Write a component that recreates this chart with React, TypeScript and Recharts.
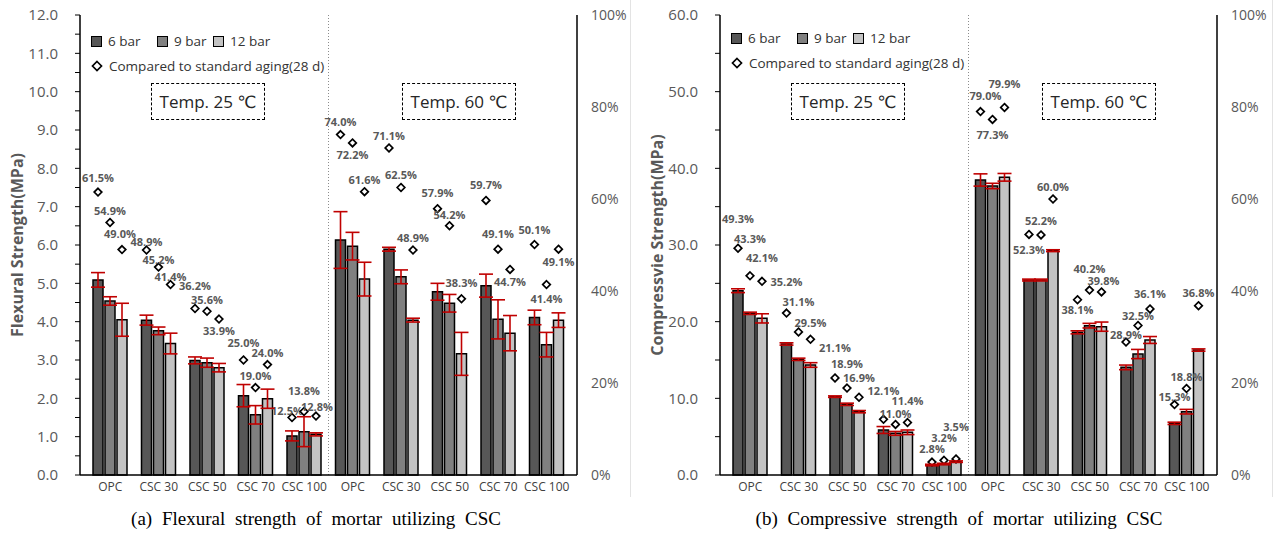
import React from "react";
import { ComposedChart, Bar, XAxis, YAxis, ErrorBar, ReferenceLine } from "recharts";

// categories (two temperature groups)
const categories = ["OPC", "CSC 30", "CSC 50", "CSC 70", "CSC 100", "OPC", "CSC 30", "CSC 50", "CSC 70", "CSC 100"];
const temps = [25, 25, 25, 25, 25, 60, 60, 60, 60, 60];

// (a) flexural strength, MPa
const flex6 = [5.09, 4.04, 2.99, 2.07, 1.02, 6.13, 5.89, 4.78, 4.94, 4.11];
const flex9 = [4.54, 3.76, 2.93, 1.57, 1.13, 5.97, 5.17, 4.48, 4.06, 3.4];
const flex12 = [4.05, 3.43, 2.8, 1.99, 1.06, 5.11, 4.04, 3.16, 3.7, 4.04];
const flexErr6 = [0.19, 0.13, 0.09, 0.29, 0.13, 0.74, 0.05, 0.22, 0.3, 0.19];
const flexErr9 = [0.11, 0.1, 0.12, 0.24, 0.39, 0.36, 0.18, 0.23, 0.51, 0.32];
const flexErr12 = [0.43, 0.27, 0.11, 0.25, 0.04, 0.44, 0.05, 0.56, 0.46, 0.19];
const flexPct6 = [61.5, 48.9, 36.2, 25.0, 12.5, 74.0, 71.1, 57.9, 59.7, 50.1];
const flexPct9 = [54.9, 45.2, 35.6, 19.0, 13.8, 72.2, 62.5, 54.2, 49.1, 41.4];
const flexPct12 = [49.0, 41.4, 33.9, 24.0, 12.8, 61.6, 48.9, 38.3, 44.7, 49.1];

// (b) compressive strength, MPa
const comp6 = [24.04, 17.09, 10.22, 5.87, 1.3, 38.48, 25.43, 18.61, 14.04, 6.74];
const comp9 = [21.09, 15.09, 9.22, 5.43, 1.43, 37.7, 25.43, 19.48, 15.78, 8.26];
const comp12 = [20.43, 14.35, 8.26, 5.57, 1.74, 38.83, 29.26, 19.35, 17.61, 16.3];
const compErr6 = [0.25, 0.15, 0.1, 0.45, 0.1, 0.8, 0.12, 0.2, 0.3, 0.15];
const compErr9 = [0.15, 0.15, 0.15, 0.25, 0.1, 0.35, 0.12, 0.3, 0.6, 0.3];
const compErr12 = [0.6, 0.3, 0.15, 0.3, 0.1, 0.5, 0.12, 0.6, 0.45, 0.15];
const compPct6 = [49.3, 35.2, 21.1, 12.1, 2.8, 79.0, 52.3, 38.1, 28.9, 15.3];
const compPct9 = [43.3, 31.1, 18.9, 11.0, 3.2, 77.3, 52.2, 40.2, 32.5, 18.8];
const compPct12 = [42.1, 29.5, 16.9, 11.4, 3.5, 79.9, 60.0, 39.8, 36.1, 36.8];

// tick values
const flexTicks = [0, 0.5, 1, 1.5, 2, 2.5, 3, 3.5, 4, 4.5, 5, 5.5, 6, 6.5, 7, 7.5, 8, 8.5, 9, 9.5, 10, 10.5, 11, 11.5, 12];
const compTicks = [0, 5, 10, 15, 20, 25, 30, 35, 40, 45, 50, 55, 60];
const pctTicks = [0, 20, 40, 60, 80, 100];

// label placement (px offsets of the % labels from their diamonds)
const flexDx = [
  [0, 0, 0, 0, -5, 0, 0, 0, 0, 0],
  [0, 0, 0, 0, 0, 0, 0, 0, 0, 0],
  [-2, 0, 0, 0, 1, 0, 0, 0, 0, 0],
];
const flexDy = [
  [-15, -9, -23, -18, -7, -13, -12, -16, -16, -15],
  [-12, -8, -12, -12, -21, 12, -13, -11, -16, 14],
  [-16, -8, 11, -12, -10, -12, -13, -16, 12, 12],
];
const compDx = [
  [0, 0, 0, 0, 0, 5, 0, 0, 0, 0],
  [0, 0, 0, 0, 0, 0, 0, 0, 0, 0],
  [0, 0, 0, 0, 0, 0, 0, 2, 0, 0],
];
const compDy = [
  [-30, -32, -30, -29, -14, -16, 15, 10, -8, -8],
  [-37, -30, -25, -11, -23, 15, -14, -22, -10, -12],
  [-24, -17, -20, -22, -32, -24, -13, -11, -15, -13],
];

const FILL = ["#575757", "#808080", "#c3c3c3"];
const SERIES = ["6 bar", "9 bar", "12 bar"];
const FONT = "'Open Sans', 'DejaVu Sans', sans-serif";
const GRAY = "#595959";

function buildRows(s: number[][], e: number[][], p: number[][]) {
  return categories.map((c, i) => ({
    key: `${c}|${temps[i]}`,
    s6: s[0][i], s9: s[1][i], s12: s[2][i],
    e6: e[0][i], e9: e[1][i], e12: e[2][i],
    p6: p[0][i], p9: p[1][i], p12: p[2][i],
  }));
}

const flexRows = buildRows([flex6, flex9, flex12], [flexErr6, flexErr9, flexErr12], [flexPct6, flexPct9, flexPct12]);
const compRows = buildRows([comp6, comp9, comp12], [compErr6, compErr9, compErr12], [compPct6, compPct9, compPct12]);

function makeDiamond(field: string, dxs: number[], dys: number[]) {
  return (props: any) => {
    const { x, y, width, index, payload } = props;
    if (x == null || y == null) return <g />;
    const cx = x + width / 2;
    const r = 3.8;
    const i = index ?? 0;
    const v = payload && payload[field] != null ? payload[field] : props.value;
    return (
      <g>
        <path
          d={`M${cx},${y - r}L${cx + r},${y}L${cx},${y + r}L${cx - r},${y}Z`}
          fill="#fff"
          stroke="#000"
          strokeWidth={1.7}
        />
        <text
          x={cx + dxs[i]}
          y={y + dys[i]}
          textAnchor="middle"
          dominantBaseline="central"
          fontSize={11}
          fontWeight={700}
          fill={GRAY}
          fontFamily={FONT}
        >
          {Number(v).toFixed(1)}%
        </text>
      </g>
    );
  };
}

type PanelProps = {
  left: number;
  rows: any[];
  yMax: number;
  yTicks: number[];
  labelStep: number;
  title: string;
  dx: number[][];
  dy: number[][];
  legendTop: number;
};

const W = 632;
const H = 500;
const PLOT_L = 80;

function Panel({ left, rows, yMax, yTicks, labelStep, title, dx, dy, legendTop }: PanelProps) {
  const axisLine = { stroke: "#000", strokeWidth: 1.5 };
  const pad = { left: 6, right: 6 };
  return (
    <div style={{ position: "absolute", left, top: 0, width: W, height: H }}>
      <ComposedChart width={W} height={H} data={rows} margin={{ top: 15, right: 0, bottom: 0, left: 0 }} barGap={2}>
        <XAxis
          xAxisId="bottom"
          dataKey="key"
          height={25}
          padding={pad}
          axisLine={axisLine}
          tickLine={false}
          tickSize={0}
          tickMargin={7}
          interval={0}
          tick={{ fontSize: 12, fill: "#404040", fontFamily: FONT }}
          tickFormatter={(v: string) => String(v).split("|")[0]}
        />
        <XAxis
          xAxisId="top"
          dataKey="key"
          orientation="top"
          height={0}
          padding={pad}
          axisLine={axisLine}
          tick={false}
          tickLine={false}
        />
        <YAxis
          yAxisId="left"
          width={PLOT_L}
          domain={[0, yMax]}
          ticks={yTicks}
          interval={0}
          axisLine={axisLine}
          tickLine={{ stroke: "#000", strokeWidth: 1 }}
          tickSize={5}
          tickMargin={17}
          tick={{ fontSize: 15, fill: GRAY, fontFamily: FONT }}
          tickFormatter={(v: number) => (v % labelStep === 0 ? v.toFixed(1) : "")}
          label={{
            content: (p: any) => {
              const vb = p.viewBox || { y: 15, height: 460 };
              const cy = vb.y + vb.height / 2;
              return (
                <text
                  x={17}
                  y={cy}
                  transform={`rotate(-90, 17, ${cy})`}
                  textAnchor="middle"
                  dominantBaseline="central"
                  fontSize={16}
                  fontWeight={700}
                  fill={GRAY}
                  fontFamily={FONT}
                >
                  {title}
                </text>
              );
            },
          }}
        />
        <YAxis
          yAxisId="pct"
          orientation="right"
          width={W - 577}
          domain={[0, 100]}
          ticks={pctTicks}
          interval={0}
          axisLine={axisLine}
          tickLine={false}
          tickSize={0}
          tickMargin={14}
          tick={{ fontSize: 14, fill: GRAY, fontFamily: FONT }}
          tickFormatter={(v: number) => `${v}%`}
        />
        <ReferenceLine
          xAxisId="bottom"
          yAxisId="left"
          x={rows[5].key}
          position="start"
          stroke="#8c8c8c"
          strokeWidth={1}
          strokeDasharray="1 2"
        />
        {["6", "9", "12"].map((s, k) => (
          <Bar
            key={`b${s}`}
            xAxisId="bottom"
            yAxisId="left"
            dataKey={`s${s}`}
            barSize={10}
            fill={FILL[k]}
            stroke="#000"
            strokeWidth={1.5}
            isAnimationActive={false}
          >
            <ErrorBar dataKey={`e${s}`} width={7} stroke="#c00000" strokeWidth={1.6} />
          </Bar>
        ))}
        {["6", "9", "12"].map((s, k) => (
          <Bar
            key={`p${s}`}
            xAxisId="top"
            yAxisId="pct"
            dataKey={`p${s}`}
            barSize={10}
            shape={makeDiamond(`p${s}`, dx[k], dy[k])}
            isAnimationActive={false}
          />
        ))}
      </ComposedChart>

      {/* legend */}
      {SERIES.map((name, k) => {
        const sq = [91, 157, 213][k];
        return (
          <div key={name} style={{ position: "absolute", left: sq, top: legendTop - 9, height: 18, display: "flex", alignItems: "center" }}>
            <div style={{ width: 9, height: 9, background: FILL[k], border: "1.5px solid #000" }} />
            <span style={{ marginLeft: 6, fontSize: 13.5, color: "#333", fontFamily: FONT, whiteSpace: "nowrap" }}>{name}</span>
          </div>
        );
      })}
      <div style={{ position: "absolute", left: 91, top: legendTop + 16, height: 18, display: "flex", alignItems: "center" }}>
        <svg width={12} height={12}>
          <path d="M6,1.5L10.5,6L6,10.5L1.5,6Z" fill="#fff" stroke="#000" strokeWidth={1.7} />
        </svg>
        <span style={{ marginLeft: 6, fontSize: 13.5, color: "#333", fontFamily: FONT, whiteSpace: "nowrap" }}>
          Compared to standard aging(28 d)
        </span>
      </div>

      {/* temperature boxes */}
      {["Temp. 25 ℃", "Temp. 60 ℃"].map((t, k) => (
        <div
          key={t}
          style={{
            position: "absolute",
            left: PLOT_L + (k === 0 ? 71 : 322),
            top: 83,
            width: 112,
            height: 35,
            border: "1.5px dashed #000",
            display: "flex",
            alignItems: "center",
            justifyContent: "center",
            fontSize: 17,
            color: "#262626",
            fontFamily: FONT,
            whiteSpace: "nowrap",
          }}
        >
          {t}
        </div>
      ))}
    </div>
  );
}

export default function App() {
  const caption: React.CSSProperties = {
    position: "absolute",
    top: 508,
    width: 500,
    textAlign: "center",
    fontFamily: "'Liberation Serif', 'DejaVu Serif', serif",
    fontSize: 19,
    wordSpacing: 5,
    color: "#000",
    whiteSpace: "nowrap",
  };
  return (
    <div style={{ position: "absolute", left: 0, top: 0, width: 1278, height: 537, background: "#fff", overflow: "hidden" }}>
      <Panel
        left={0}
        rows={flexRows}
        yMax={12}
        yTicks={flexTicks}
        labelStep={1}
        title="Flexural Strength(MPa)"
        dx={flexDx}
        dy={flexDy}
        legendTop={41}
      />
      <Panel
        left={640}
        rows={compRows}
        yMax={60}
        yTicks={compTicks}
        labelStep={10}
        title="Compressvie Strength(MPa)"
        dx={compDx}
        dy={compDy}
        legendTop={38}
      />
      <div style={{ position: "absolute", left: 630, top: 0, width: 1, height: 497, background: "#e3e3e3" }} />
      <div style={{ position: "absolute", left: 1272, top: 0, width: 1, height: 497, background: "#e3e3e3" }} />
      <div style={{ ...caption, left: 316 - 250 }}>(a) Flexural strength of mortar utilizing CSC</div>
      <div style={{ ...caption, left: 959 - 250 }}>(b) Compressive strength of mortar utilizing CSC</div>
    </div>
  );
}
